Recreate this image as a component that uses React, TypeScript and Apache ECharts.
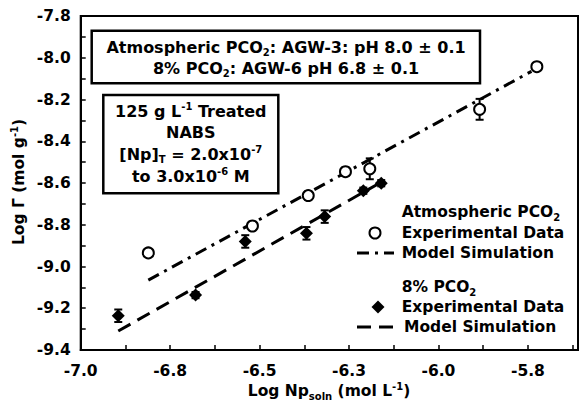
import React, { useEffect, useRef } from "react";
import * as echarts from "echarts";

// Axis ticks
const xTickValues = [-7.0, -6.75, -6.5, -6.25, -6.0, -5.75];
const xTickLabels = ["-7.0", "-6.8", "-6.5", "-6.3", "-6.0", "-5.8"];
const yTickValues = [-9.4, -9.2, -9.0, -8.8, -8.6, -8.4, -8.2, -8.0, -7.8];
const yTickLabels = ["-9.4", "-9.2", "-9.0", "-8.8", "-8.6", "-8.4", "-8.2", "-8.0", "-7.8"];

// Atmospheric PCO2 experimental data (open circles)
const atmX = [-6.811, -6.52, -6.364, -6.26, -6.192, -5.885, -5.725];
const atmY = [-8.935, -8.806, -8.66, -8.546, -8.532, -8.247, -8.043];
const atmErr = [0, 0.02, 0.02, 0.02, 0.05, 0.05, 0.01];

// 8% PCO2 experimental data (filled diamonds)
const co2X = [-6.895, -6.679, -6.54, -6.369, -6.318, -6.21, -6.16];
const co2Y = [-9.236, -9.137, -8.88, -8.841, -8.761, -8.637, -8.601];
const co2Err = [0.03, 0.015, 0.03, 0.03, 0.03, 0.015, 0.015];

// Model simulations
const atmModelX = [-6.811, -5.74];
const atmModelY = [-9.065, -8.065];
const co2ModelX = [-6.895, -6.16];
const co2ModelY = [-9.309, -8.596];

const FONT = "DejaVu Sans";

function labelFor(values: number[], labels: string[], v: number) {
  const i = values.findIndex((t) => Math.abs(t - v) < 1e-6);
  return i >= 0 ? labels[i] : "";
}

const rich = {
  sup: { fontSize: 10, fontWeight: "bold", fontFamily: FONT, lineHeight: 11, verticalAlign: "top", fill: "#000" },
  sub: { fontSize: 10, fontWeight: "bold", fontFamily: FONT, lineHeight: 11, verticalAlign: "bottom", fill: "#000" },
};

function txt(text: string, x: number, y: number, size: number, align = "left", rotation = 0) {
  return {
    type: "text",
    x,
    y,
    rotation,
    style: {
      text,
      fill: "#000",
      fontSize: size,
      fontWeight: "bold",
      fontFamily: FONT,
      lineHeight: 20,
      textAlign: align,
      textVerticalAlign: "middle",
      rich,
    },
    z: 20,
  };
}

function errorBarSeries(xs: number[], ys: number[], es: number[]) {
  return {
    type: "custom",
    z: 2,
    silent: true,
    data: xs.map((x, i) => [x, ys[i], es[i]]),
    renderItem: (params: any, api: any) => {
      const x = api.value(0);
      const y = api.value(1);
      const e = api.value(2);
      if (!e) return { type: "group", children: [] };
      const top = api.coord([x, y + e]);
      const bot = api.coord([x, y - e]);
      const cap = 4;
      const st = { stroke: "#000", lineWidth: 2 };
      return {
        type: "group",
        children: [
          { type: "line", shape: { x1: top[0], y1: top[1], x2: bot[0], y2: bot[1] }, style: st },
          { type: "line", shape: { x1: top[0] - cap, y1: top[1], x2: top[0] + cap, y2: top[1] }, style: st },
          { type: "line", shape: { x1: bot[0] - cap, y1: bot[1], x2: bot[0] + cap, y2: bot[1] }, style: st },
        ],
      };
    },
  };
}

export default function App() {
  const ref = useRef<HTMLDivElement>(null);
  useEffect(() => {
    if (!ref.current) return;
    const chart = echarts.init(ref.current, null, { renderer: "svg" });
    const axisLabel = { color: "#000", fontWeight: "bold", fontSize: 15.5, fontFamily: FONT };
    const option: any = {
      animation: false,
      backgroundColor: "#fff",
      grid: { left: 80.7, right: 4, top: 16, bottom: 52, show: true, borderColor: "#000", borderWidth: 2 },
      xAxis: {
        type: "value",
        min: -7.0,
        max: -5.61,
        interval: 0.25,
        splitLine: { show: false },
        axisLine: { show: true, lineStyle: { color: "#000", width: 2 } },
        axisTick: { show: true, inside: true, length: 5, lineStyle: { color: "#000", width: 1.5 } },
        minorTick: { show: true, splitNumber: 2, length: 5, lineStyle: { color: "#000", width: 1.5 } },
        axisLabel: {
          ...axisLabel,
          margin: 13,
          showMaxLabel: false,
          formatter: (v: number) => labelFor(xTickValues, xTickLabels, v),
        },
      },
      yAxis: {
        type: "value",
        min: -9.4,
        max: -7.8,
        interval: 0.2,
        splitLine: { show: false },
        axisLine: { show: true, lineStyle: { color: "#000", width: 2 } },
        axisTick: { show: true, inside: true, length: 5, lineStyle: { color: "#000", width: 1.5 } },
        minorTick: { show: true, splitNumber: 2, length: 5, lineStyle: { color: "#000", width: 1.5 } },
        axisLabel: {
          ...axisLabel,
          margin: 10,
          formatter: (v: number) => labelFor(yTickValues, yTickLabels, v),
        },
      },
      series: [
        {
          type: "line",
          z: 1,
          showSymbol: false,
          silent: true,
          data: atmModelX.map((x, i) => [x, atmModelY[i]]),
          lineStyle: { color: "#000", width: 3, type: [12, 6, 3, 6] },
        },
        {
          type: "line",
          z: 1,
          showSymbol: false,
          silent: true,
          data: co2ModelX.map((x, i) => [x, co2ModelY[i]]),
          lineStyle: { color: "#000", width: 3, type: [14, 8] },
        },
        errorBarSeries(atmX, atmY, atmErr),
        errorBarSeries(co2X, co2Y, co2Err),
        {
          type: "scatter",
          z: 3,
          symbol: "circle",
          symbolSize: 11,
          data: atmX.map((x, i) => [x, atmY[i]]),
          itemStyle: { color: "#fff", borderColor: "#000", borderWidth: 2, opacity: 1 },
        },
        {
          type: "scatter",
          z: 3,
          symbol: "diamond",
          symbolSize: [13, 13],
          data: co2X.map((x, i) => [x, co2Y[i]]),
          itemStyle: { color: "#000", opacity: 1 },
        },
      ],
      graphic: [
        // Box 1
        {
          type: "rect",
          shape: { x: 91.7, y: 30.7, width: 388.3, height: 52.6 },
          style: { fill: "#fff", stroke: "#000", lineWidth: 2.5 },
          z: 10,
        },
        txt("Atmospheric PCO{sub|2}: AGW-3: pH 8.0 ± 0.1", 286, 47, 16, "center"),
        txt("8% PCO{sub|2}: AGW-6 pH 6.8 ± 0.1", 286, 68.5, 16, "center"),
        // Box 2
        {
          type: "rect",
          shape: { x: 103.3, y: 95, width: 175, height: 98.3 },
          style: { fill: "#fff", stroke: "#000", lineWidth: 2.5 },
          z: 10,
        },
        txt("125 g L{sup|-1} Treated", 190.8, 111, 16, "center"),
        txt("NABS", 190.8, 132, 16, "center"),
        txt("[Np]{sub|T} = 2.0x10{sup|-7}", 190.8, 154, 16, "center"),
        txt("to 3.0x10{sup|-6} M", 190.8, 176, 16, "center"),
        // Legend
        txt("Atmospheric PCO{sub|2}", 401.7, 212, 15.5),
        {
          type: "circle",
          shape: { cx: 375, cy: 233, r: 5.5 },
          style: { fill: "#fff", stroke: "#000", lineWidth: 2 },
          z: 20,
        },
        txt("Experimental Data", 401.7, 233, 15.5),
        {
          type: "line",
          shape: { x1: 357, y1: 253, x2: 394, y2: 253 },
          style: { stroke: "#000", lineWidth: 3, lineDash: [12, 6, 3, 6] },
          z: 20,
        },
        txt("Model Simulation", 401.7, 253, 15.5),
        txt("8% PCO{sub|2}", 401.7, 287, 15.5),
        {
          type: "polygon",
          shape: { points: [[378, 300.5], [384.5, 307], [378, 313.5], [371.5, 307]] },
          style: { fill: "#000" },
          z: 20,
        },
        txt("Experimental Data", 401.7, 307, 15.5),
        {
          type: "line",
          shape: { x1: 357, y1: 327, x2: 400, y2: 327 },
          style: { stroke: "#000", lineWidth: 3, lineDash: [14, 8] },
          z: 20,
        },
        txt("Model Simulation", 404, 327, 15.5),
        // Axis titles
        txt("Log Np{sub|soln} (mol L{sup|-1})", 329, 391, 15.5, "center"),
        txt("Log Γ (mol g{sup|-1})", 19, 182, 15.5, "center", Math.PI / 2),
      ],
    };
    chart.setOption(option);
    return () => chart.dispose();
  }, []);
  return (
    <div
      ref={ref}
      style={{ position: "absolute", left: 0, top: 0, width: 582, height: 402, background: "#fff" }}
    />
  );
}
